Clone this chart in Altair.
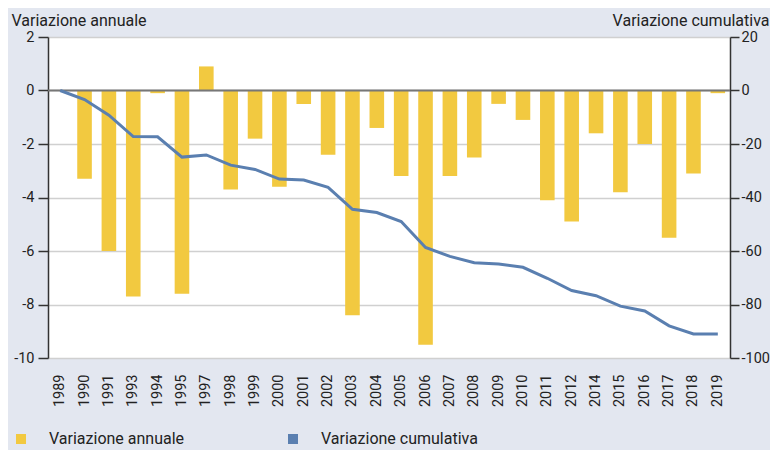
import altair as alt
import pandas as pd

anni = ["1989", "1990", "1991", "1993", "1994", "1995", "1997", "1998", "1999", "2000",
        "2001", "2002", "2003", "2004", "2005", "2006", "2007", "2008", "2009", "2010",
        "2011", "2012", "2014", "2015", "2016", "2017", "2018", "2019"]
annuale = [0, -3.3, -6.0, -7.7, -0.1, -7.6, 0.9, -3.7, -1.8, -3.6,
           -0.5, -2.4, -8.4, -1.4, -3.2, -9.5, -3.2, -2.5, -0.5, -1.1,
           -4.1, -4.9, -1.6, -3.8, -2.0, -5.5, -3.1, -0.1]
cumulativa = [0, -3.4, -9.2, -17.2, -17.3, -24.9, -24.1, -27.9, -29.5, -33.1,
              -33.5, -36.2, -44.4, -45.6, -49.0, -58.7, -62.0, -64.4, -64.9, -66.1,
              -70.2, -74.8, -76.7, -80.6, -82.4, -88.0, -91.0, -91.0]
serie = ["Variazione annuale", "Variazione cumulativa"]
left_ticks = [-10, -8, -6, -4, -2, 0, 2]
right_ticks = [-100, -80, -60, -40, -20, 0, 20]

YELLOW = "#f2c940"
BLUE = "#5a7fb0"
FONT = "Roboto"
TXT = 16
NUM = 14.5

df = pd.DataFrame({"anno": anni, "annuale": annuale, "cumulativa": cumulativa})

x_enc = alt.X("anno:O", sort=anni, title=None,
              scale=alt.Scale(paddingInner=0.4, paddingOuter=0.2),
              axis=alt.Axis(labelAngle=-90, domain=False, ticks=False, grid=False,
                            labelPadding=16, labelFontSize=NUM))

left_scale = alt.Scale(domain=[-10, 2], nice=False, zero=False)

bars = alt.Chart(df).mark_bar(size=14.6).transform_calculate(
    s="'Variazione annuale'"
).encode(
    x=x_enc,
    y=alt.Y("annuale:Q", scale=left_scale,
            axis=alt.Axis(values=left_ticks, labelExpr="datum.value + ''",
                          title="Variazione annuale", titleAngle=0, titleAlign="left",
                          titleBaseline="alphabetic", titleX=-37, titleY=-12,
                          titleFontSize=TXT, titleFontWeight="normal", titleFont=FONT,
                          titleColor="#222",
                          grid=True, gridColor="#d0d0d0", gridWidth=1.5,
                          tickSize=10, labelPadding=4)),
    color=alt.Color("s:N", scale=alt.Scale(domain=serie, range=[YELLOW, BLUE]),
                    legend=alt.Legend(title=None, orient="none", direction="horizontal",
                                      legendX=-35, legendY=394, symbolType="square",
                                      symbolSize=100, symbolStrokeWidth=0,
                                      labelFont=FONT, labelFontSize=TXT, labelColor="#222",
                                      labelOffset=20, columnPadding=100, padding=0,
                                      labelLimit=300)),
)

zero = alt.Chart(df).transform_filter("datum.anno == '1989'").mark_rule(
    color="#777777", strokeWidth=2.2
).encode(y=alt.datum(0))

left = alt.layer(bars, zero)

line = alt.Chart(df).mark_line(color=BLUE, strokeWidth=3).encode(
    x=x_enc,
    y=alt.Y("cumulativa:Q", scale=alt.Scale(domain=[-100, 20], nice=False, zero=False),
            axis=alt.Axis(orient="right", values=right_ticks, labelExpr="datum.value + ''",
                          title="Variazione cumulativa", titleAngle=0, titleAlign="right",
                          titleBaseline="alphabetic", titleX=39, titleY=-12,
                          titleFontSize=TXT, titleFontWeight="normal", titleFont=FONT,
                          titleColor="#222",
                          grid=False, tickSize=9, labelPadding=2)),
)

chart = alt.layer(left, line).resolve_scale(y="independent").properties(
    width=682, height=321,
    autosize=alt.AutoSizeParams(type="none"),
    padding={"left": 40, "top": 29, "right": 40, "bottom": 92},
    background="#e3e7f0",
).configure_view(
    fill="white", stroke=None
).configure_axis(
    labelFont=FONT, labelFontSize=NUM, labelColor="#222",
    domainColor="#333333", domainWidth=1.5, tickColor="#333333", tickWidth=1.5,
)

chart.save("out.html", embed_options={"renderer": "svg", "actions": False})
